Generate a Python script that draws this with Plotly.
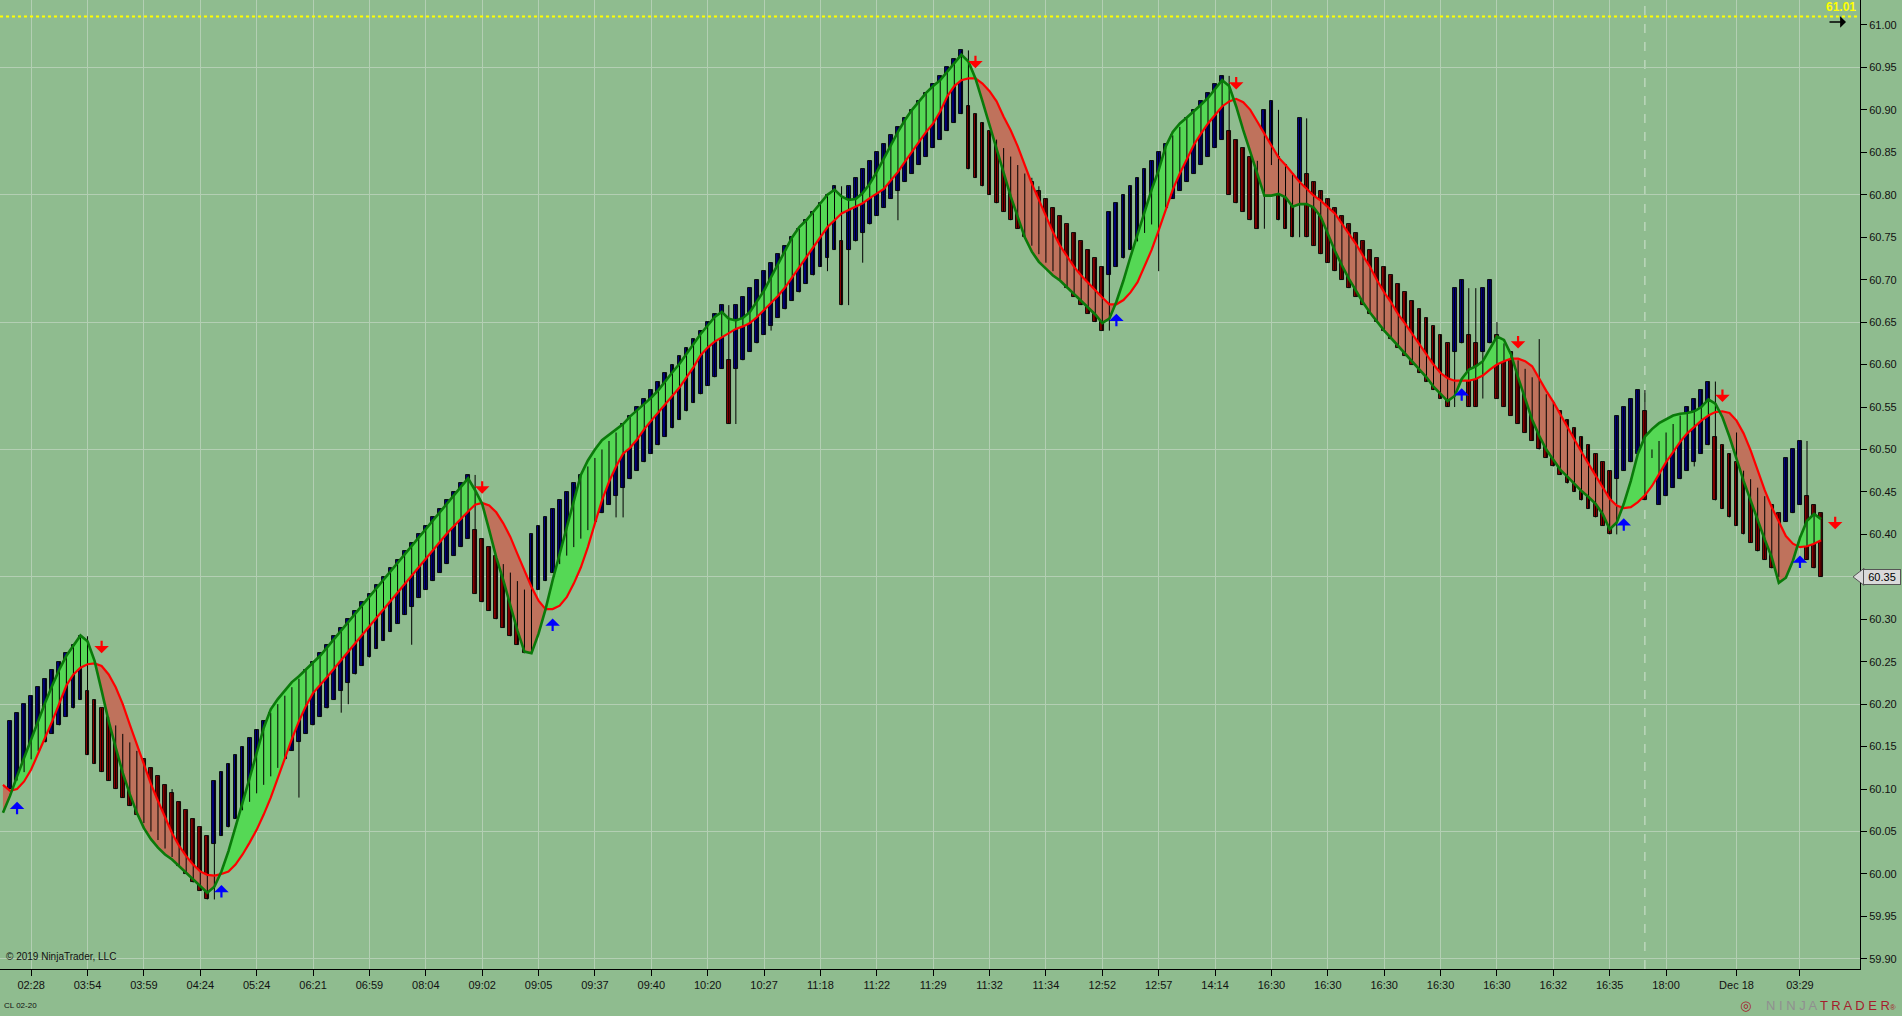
import plotly.graph_objects as go

# ---------------- data ----------------
bar_index = list(range(1, 259))

opens = [
    60.10, 60.11, 60.12, 60.135, 60.145, 60.155, 60.165, 60.175, 60.185, 60.195,
    60.205, 60.215, 60.205, 60.195, 60.185, 60.175, 60.165, 60.155, 60.145, 60.135,
    60.125, 60.115, 60.105, 60.095, 60.085, 60.075, 60.065, 60.055, 60.045, 60.035,
    60.045, 60.055, 60.065, 60.075, 60.085, 60.095, 60.105, 60.115, 60.125, 60.135,
    60.145, 60.155, 60.165, 60.175, 60.185, 60.195, 60.205, 60.215, 60.225, 60.235,
    60.245, 60.255, 60.265, 60.275, 60.285, 60.295, 60.305, 60.315, 60.325, 60.335,
    60.345, 60.355, 60.365, 60.375, 60.385, 60.395, 60.405, 60.395, 60.385, 60.375,
    60.365, 60.355, 60.345, 60.335, 60.325, 60.335, 60.345, 60.355, 60.365, 60.375,
    60.385, 60.395, 60.405, 60.415, 60.425, 60.435, 60.445, 60.455, 60.465, 60.475,
    60.485, 60.495, 60.505, 60.515, 60.525, 60.535, 60.545, 60.555, 60.565, 60.575,
    60.585, 60.595, 60.605, 60.595, 60.605, 60.615, 60.625, 60.635, 60.645, 60.655,
    60.665, 60.675, 60.685, 60.695, 60.705, 60.715, 60.725, 60.735, 60.745, 60.735,
    60.745, 60.755, 60.765, 60.775, 60.785, 60.795, 60.805, 60.815, 60.825, 60.835,
    60.845, 60.855, 60.865, 60.875, 60.885, 60.895, 60.905, 60.895, 60.885, 60.875,
    60.865, 60.855, 60.845, 60.835, 60.825, 60.815, 60.805, 60.795, 60.785, 60.775,
    60.765, 60.755, 60.745, 60.735, 60.725, 60.715, 60.705, 60.715, 60.725, 60.735,
    60.745, 60.755, 60.765, 60.775, 60.785, 60.795, 60.805, 60.815, 60.825, 60.835,
    60.845, 60.855, 60.865, 60.875, 60.865, 60.855, 60.845, 60.835, 60.825, 60.835,
    60.845, 60.835, 60.825, 60.815, 60.825, 60.815, 60.805, 60.795, 60.785, 60.775,
    60.765, 60.755, 60.745, 60.735, 60.725, 60.715, 60.705, 60.695, 60.685, 60.675,
    60.665, 60.655, 60.645, 60.635, 60.625, 60.615, 60.625, 60.635, 60.625, 60.615,
    60.625, 60.635, 60.625, 60.615, 60.605, 60.595, 60.585, 60.575, 60.565, 60.555,
    60.545, 60.535, 60.525, 60.515, 60.505, 60.495, 60.485, 60.475, 60.465, 60.475,
    60.485, 60.495, 60.545, 60.49, 60.435, 60.445, 60.455, 60.465, 60.475, 60.485,
    60.495, 60.505, 60.515, 60.505, 60.495, 60.485, 60.475, 60.465, 60.455, 60.445,
    60.435, 60.425, 60.415, 60.425, 60.435, 60.445, 60.435, 60.425,
]

closes = [
    60.18, 60.19, 60.20, 60.21, 60.22, 60.23, 60.24, 60.25, 60.26, 60.27,
    60.28, 60.14, 60.13, 60.12, 60.11, 60.10, 60.09, 60.08, 60.07, 60.06,
    60.05, 60.04, 60.03, 60.02, 60.01, 60.00, 59.99, 59.98, 59.97, 60.11,
    60.12, 60.13, 60.14, 60.15, 60.16, 60.17, 60.18, 60.19, 60.20, 60.21,
    60.22, 60.23, 60.24, 60.25, 60.26, 60.27, 60.28, 60.29, 60.30, 60.31,
    60.32, 60.33, 60.34, 60.35, 60.36, 60.37, 60.38, 60.39, 60.40, 60.41,
    60.42, 60.43, 60.44, 60.45, 60.46, 60.47, 60.33, 60.32, 60.31, 60.30,
    60.29, 60.28, 60.27, 60.26, 60.40, 60.41, 60.42, 60.43, 60.44, 60.45,
    60.46, 60.47, 60.48, 60.49, 60.50, 60.51, 60.52, 60.53, 60.54, 60.55,
    60.56, 60.57, 60.58, 60.59, 60.60, 60.61, 60.62, 60.63, 60.64, 60.65,
    60.66, 60.67, 60.53, 60.67, 60.68, 60.69, 60.70, 60.71, 60.72, 60.73,
    60.74, 60.75, 60.76, 60.77, 60.78, 60.79, 60.80, 60.81, 60.67, 60.81,
    60.82, 60.83, 60.84, 60.85, 60.86, 60.87, 60.88, 60.89, 60.90, 60.91,
    60.92, 60.93, 60.94, 60.95, 60.96, 60.97, 60.83, 60.82, 60.81, 60.80,
    60.79, 60.78, 60.77, 60.76, 60.75, 60.74, 60.73, 60.72, 60.71, 60.70,
    60.69, 60.68, 60.67, 60.66, 60.65, 60.64, 60.78, 60.79, 60.80, 60.81,
    60.82, 60.83, 60.84, 60.85, 60.86, 60.87, 60.88, 60.89, 60.90, 60.91,
    60.92, 60.93, 60.94, 60.80, 60.79, 60.78, 60.77, 60.76, 60.90, 60.91,
    60.77, 60.76, 60.75, 60.89, 60.75, 60.74, 60.73, 60.72, 60.71, 60.70,
    60.69, 60.68, 60.67, 60.66, 60.65, 60.64, 60.63, 60.62, 60.61, 60.60,
    60.59, 60.58, 60.57, 60.56, 60.55, 60.69, 60.70, 60.55, 60.55, 60.69,
    60.70, 60.56, 60.55, 60.54, 60.53, 60.52, 60.51, 60.50, 60.49, 60.48,
    60.47, 60.46, 60.45, 60.44, 60.43, 60.42, 60.41, 60.40, 60.54, 60.55,
    60.56, 60.57, 60.44, 60.50, 60.51, 60.52, 60.53, 60.54, 60.55, 60.56,
    60.57, 60.58, 60.44, 60.43, 60.42, 60.41, 60.40, 60.39, 60.38, 60.37,
    60.36, 60.35, 60.49, 60.50, 60.51, 60.37, 60.36, 60.35,
]

highs = [
    60.18, 60.19, 60.20, 60.21, 60.22, 60.23, 60.24, 60.25, 60.26, 60.27,
    60.28, 60.28, 60.205, 60.195, 60.185, 60.175, 60.165, 60.155, 60.145, 60.135,
    60.125, 60.115, 60.105, 60.10, 60.085, 60.075, 60.065, 60.055, 60.045, 60.11,
    60.12, 60.13, 60.14, 60.15, 60.16, 60.17, 60.18, 60.19, 60.20, 60.21,
    60.22, 60.23, 60.24, 60.25, 60.26, 60.27, 60.28, 60.29, 60.30, 60.31,
    60.32, 60.33, 60.34, 60.35, 60.36, 60.37, 60.38, 60.39, 60.40, 60.41,
    60.42, 60.43, 60.44, 60.45, 60.46, 60.47, 60.47, 60.395, 60.385, 60.375,
    60.365, 60.355, 60.345, 60.335, 60.40, 60.41, 60.42, 60.43, 60.44, 60.45,
    60.46, 60.47, 60.48, 60.49, 60.50, 60.51, 60.52, 60.53, 60.54, 60.55,
    60.56, 60.57, 60.58, 60.59, 60.60, 60.61, 60.62, 60.63, 60.64, 60.65,
    60.66, 60.67, 60.67, 60.67, 60.68, 60.69, 60.70, 60.71, 60.72, 60.73,
    60.74, 60.75, 60.76, 60.77, 60.78, 60.79, 60.80, 60.81, 60.81, 60.81,
    60.82, 60.83, 60.84, 60.85, 60.86, 60.87, 60.88, 60.89, 60.90, 60.91,
    60.92, 60.93, 60.94, 60.95, 60.96, 60.97, 60.97, 60.895, 60.885, 60.875,
    60.865, 60.855, 60.845, 60.835, 60.825, 60.82, 60.81, 60.795, 60.785, 60.775,
    60.765, 60.755, 60.745, 60.735, 60.725, 60.715, 60.78, 60.79, 60.80, 60.81,
    60.82, 60.83, 60.84, 60.85, 60.86, 60.87, 60.88, 60.89, 60.90, 60.91,
    60.92, 60.93, 60.94, 60.94, 60.865, 60.855, 60.845, 60.84, 60.90, 60.91,
    60.90, 60.835, 60.825, 60.89, 60.89, 60.815, 60.805, 60.795, 60.785, 60.775,
    60.765, 60.755, 60.745, 60.735, 60.725, 60.715, 60.705, 60.695, 60.685, 60.675,
    60.665, 60.655, 60.645, 60.635, 60.625, 60.69, 60.70, 60.69, 60.69, 60.69,
    60.70, 60.65, 60.625, 60.615, 60.605, 60.595, 60.585, 60.63, 60.565, 60.555,
    60.545, 60.535, 60.525, 60.515, 60.505, 60.495, 60.485, 60.475, 60.54, 60.55,
    60.56, 60.57, 60.57, 60.50, 60.51, 60.52, 60.53, 60.54, 60.55, 60.56,
    60.57, 60.58, 60.58, 60.505, 60.495, 60.52, 60.475, 60.465, 60.455, 60.445,
    60.435, 60.425, 60.49, 60.50, 60.51, 60.51, 60.435, 60.425,
]

lows = [
    60.10, 60.11, 60.12, 60.135, 60.145, 60.155, 60.165, 60.175, 60.185, 60.195,
    60.205, 60.14, 60.13, 60.12, 60.11, 60.10, 60.09, 60.08, 60.07, 60.06,
    60.05, 60.04, 60.03, 60.02, 60.01, 60.00, 59.99, 59.98, 59.97, 59.97,
    60.045, 60.055, 60.065, 60.075, 60.085, 60.095, 60.105, 60.115, 60.125, 60.135,
    60.145, 60.09, 60.165, 60.175, 60.185, 60.195, 60.205, 60.19, 60.20, 60.235,
    60.245, 60.255, 60.265, 60.275, 60.285, 60.295, 60.305, 60.27, 60.325, 60.335,
    60.345, 60.355, 60.365, 60.375, 60.385, 60.395, 60.33, 60.32, 60.31, 60.30,
    60.29, 60.28, 60.27, 60.26, 60.26, 60.335, 60.345, 60.355, 60.365, 60.375,
    60.385, 60.395, 60.405, 60.415, 60.425, 60.435, 60.42, 60.42, 60.465, 60.475,
    60.485, 60.495, 60.505, 60.515, 60.525, 60.535, 60.545, 60.555, 60.565, 60.575,
    60.585, 60.595, 60.53, 60.53, 60.605, 60.615, 60.625, 60.635, 60.64, 60.655,
    60.665, 60.675, 60.685, 60.695, 60.705, 60.715, 60.71, 60.735, 60.67, 60.67,
    60.745, 60.72, 60.765, 60.775, 60.785, 60.795, 60.77, 60.815, 60.825, 60.835,
    60.845, 60.855, 60.865, 60.875, 60.885, 60.895, 60.83, 60.82, 60.81, 60.80,
    60.79, 60.78, 60.77, 60.76, 60.75, 60.74, 60.73, 60.72, 60.71, 60.70,
    60.69, 60.68, 60.67, 60.66, 60.65, 60.64, 60.64, 60.715, 60.725, 60.735,
    60.745, 60.755, 60.765, 60.71, 60.785, 60.795, 60.805, 60.815, 60.825, 60.835,
    60.845, 60.855, 60.865, 60.80, 60.79, 60.78, 60.77, 60.76, 60.76, 60.835,
    60.77, 60.76, 60.75, 60.75, 60.75, 60.74, 60.73, 60.72, 60.71, 60.70,
    60.69, 60.68, 60.67, 60.66, 60.65, 60.64, 60.63, 60.62, 60.61, 60.60,
    60.59, 60.58, 60.57, 60.56, 60.55, 60.55, 60.625, 60.55, 60.55, 60.56,
    60.625, 60.56, 60.55, 60.54, 60.53, 60.52, 60.51, 60.50, 60.49, 60.48,
    60.47, 60.46, 60.45, 60.44, 60.43, 60.42, 60.41, 60.40, 60.40, 60.475,
    60.485, 60.495, 60.44, 60.49, 60.435, 60.445, 60.455, 60.465, 60.475, 60.48,
    60.495, 60.505, 60.44, 60.43, 60.42, 60.41, 60.40, 60.39, 60.38, 60.37,
    60.36, 60.35, 60.415, 60.425, 60.435, 60.37, 60.36, 60.35,
]

# indicator lines (index 0 = bar just left of the visible area)
line_index = list(range(0, 259))
fast_line = [
    60.072, 60.092, 60.115, 60.137, 60.159, 60.180, 60.202, 60.222, 60.241, 60.257,
    60.269, 60.281, 60.274, 60.251, 60.216, 60.180, 60.149, 60.119, 60.094, 60.072,
    60.054, 60.041, 60.031, 60.023, 60.017, 60.009, 60.001, 59.994, 59.986, 59.978,
    59.985, 60.003, 60.027, 60.054, 60.084, 60.113, 60.143, 60.172, 60.194, 60.206,
    60.216, 60.226, 60.233, 60.241, 60.249, 60.257, 60.267, 60.277, 60.286, 60.296,
    60.306, 60.316, 60.326, 60.336, 60.346, 60.356, 60.366, 60.376, 60.386, 60.396,
    60.406, 60.416, 60.426, 60.436, 60.446, 60.456, 60.466, 60.452, 60.436, 60.405,
    60.373, 60.346, 60.316, 60.287, 60.262, 60.260, 60.283, 60.312, 60.346, 60.377,
    60.409, 60.440, 60.470, 60.487, 60.500, 60.511, 60.517, 60.523, 60.530, 60.539,
    60.546, 60.554, 60.561, 60.570, 60.581, 60.591, 60.601, 60.613, 60.624, 60.636,
    60.646, 60.656, 60.662, 60.654, 60.652, 60.655, 60.662, 60.674, 60.687, 60.703,
    60.719, 60.735, 60.750, 60.762, 60.770, 60.780, 60.790, 60.800, 60.806, 60.798,
    60.794, 60.795, 60.802, 60.813, 60.827, 60.843, 60.859, 60.874, 60.888, 60.900,
    60.910, 60.920, 60.928, 60.935, 60.945, 60.955, 60.965, 60.957, 60.937, 60.910,
    60.882, 60.853, 60.825, 60.798, 60.774, 60.750, 60.733, 60.721, 60.713, 60.705,
    60.699, 60.691, 60.683, 60.676, 60.668, 60.659, 60.649, 60.654, 60.674, 60.699,
    60.727, 60.754, 60.780, 60.806, 60.829, 60.857, 60.874, 60.884, 60.891, 60.898,
    60.906, 60.914, 60.924, 60.935, 60.928, 60.904, 60.876, 60.850, 60.823, 60.799,
    60.799, 60.801, 60.797, 60.786, 60.789, 60.789, 60.785, 60.774, 60.754, 60.734,
    60.717, 60.701, 60.687, 60.673, 60.661, 60.650, 60.640, 60.631, 60.622, 60.613,
    60.604, 60.594, 60.585, 60.574, 60.565, 60.557, 60.563, 60.583, 60.594, 60.598,
    60.604, 60.618, 60.633, 60.629, 60.612, 60.585, 60.559, 60.535, 60.516, 60.500,
    60.488, 60.476, 60.468, 60.459, 60.451, 60.444, 60.436, 60.424, 60.406, 60.414,
    60.436, 60.463, 60.495, 60.515, 60.524, 60.531, 60.536, 60.540, 60.542, 60.543,
    60.545, 60.550, 60.559, 60.554, 60.538, 60.515, 60.489, 60.463, 60.440, 60.416,
    60.394, 60.373, 60.343, 60.349, 60.369, 60.396, 60.416, 60.424, 60.418,
]
slow_line = [
    60.105, 60.098, 60.100, 60.109, 60.123, 60.141, 60.161, 60.180, 60.202, 60.222,
    60.235, 60.243, 60.247, 60.248, 60.245, 60.235, 60.220, 60.200, 60.176, 60.153,
    60.129, 60.106, 60.086, 60.066, 60.048, 60.033, 60.021, 60.011, 60.003, 59.999,
    59.998, 60.000, 60.003, 60.011, 60.023, 60.037, 60.052, 60.070, 60.090, 60.113,
    60.137, 60.159, 60.180, 60.198, 60.213, 60.222, 60.232, 60.242, 60.252, 60.262,
    60.272, 60.282, 60.292, 60.302, 60.312, 60.322, 60.332, 60.342, 60.352, 60.362,
    60.372, 60.382, 60.392, 60.401, 60.410, 60.419, 60.427, 60.435, 60.437, 60.434,
    60.426, 60.413, 60.397, 60.377, 60.357, 60.338, 60.322, 60.312, 60.312, 60.316,
    60.326, 60.342, 60.361, 60.385, 60.413, 60.440, 60.462, 60.480, 60.495, 60.502,
    60.512, 60.524, 60.534, 60.544, 60.554, 60.563, 60.573, 60.585, 60.597, 60.611,
    60.620, 60.627, 60.632, 60.638, 60.642, 60.645, 60.649, 60.656, 60.664, 60.672,
    60.681, 60.691, 60.703, 60.715, 60.727, 60.739, 60.750, 60.762, 60.770, 60.778,
    60.782, 60.786, 60.790, 60.796, 60.802, 60.807, 60.817, 60.827, 60.839, 60.851,
    60.863, 60.874, 60.884, 60.898, 60.916, 60.928, 60.935, 60.937, 60.937, 60.931,
    60.922, 60.910, 60.892, 60.876, 60.857, 60.835, 60.813, 60.794, 60.774, 60.756,
    60.740, 60.727, 60.715, 60.705, 60.696, 60.688, 60.679, 60.671, 60.671, 60.676,
    60.685, 60.697, 60.715, 60.735, 60.758, 60.782, 60.806, 60.825, 60.843, 60.859,
    60.872, 60.884, 60.894, 60.904, 60.910, 60.913, 60.909, 60.900, 60.886, 60.872,
    60.858, 60.844, 60.835, 60.825, 60.815, 60.807, 60.799, 60.793, 60.786, 60.778,
    60.766, 60.754, 60.742, 60.728, 60.715, 60.699, 60.685, 60.673, 60.659, 60.648,
    60.636, 60.624, 60.612, 60.600, 60.590, 60.584, 60.581, 60.581, 60.581, 60.583,
    60.587, 60.594, 60.600, 60.604, 60.607, 60.607, 60.604, 60.598, 60.583, 60.569,
    60.556, 60.541, 60.526, 60.511, 60.497, 60.483, 60.469, 60.456, 60.442, 60.434,
    60.431, 60.432, 60.438, 60.446, 60.457, 60.471, 60.485, 60.497, 60.509, 60.519,
    60.527, 60.534, 60.540, 60.544, 60.545, 60.543, 60.534, 60.519, 60.499, 60.475,
    60.452, 60.432, 60.414, 60.398, 60.389, 60.385, 60.386, 60.389, 60.393,
]

tick_bars = [4, 12, 20, 28, 36, 44, 52, 60, 68, 76, 84, 92, 100, 108, 116, 124,
             132, 140, 148, 156, 164, 172, 180, 188, 196, 204, 212, 220, 228, 236,
             246, 255]
tick_labels = ["02:28", "03:54", "03:59", "04:24", "05:24", "06:21", "06:59", "08:04",
               "09:02", "09:05", "09:37", "09:40", "10:20", "10:27", "11:18", "11:22",
               "11:29", "11:32", "11:34", "12:52", "12:57", "14:14", "16:30", "16:30",
               "16:30", "16:30", "16:30", "16:32", "16:35", "18:00", "Dec 18", "03:29"]

up_arrow_bars = [2, 31, 78, 158, 207, 230, 255]
up_arrow_prices = [60.085, 59.987, 60.301, 60.660, 60.572, 60.419, 60.375]
down_arrow_bars = [14, 68, 138, 175, 215, 244, 260]
down_arrow_prices = [60.260, 60.448, 60.949, 60.924, 60.619, 60.556, 60.406]

session_break_bar = 233
alert_price = 61.01
instrument = "CL 02-20"

assert len(opens) == len(closes) == len(highs) == len(lows) == len(bar_index)
assert len(fast_line) == len(slow_line) == len(line_index)
assert len(tick_bars) == len(tick_labels)

# ---------------- styling ----------------
BG = "#8FBC8F"
GRID = "#B3CFB3"
UP_BODY = "#000080"
DN_BODY = "#8B0000"
FILL_UP = "#55D855"
FILL_DN = "#BF725C"
FAST_COLOR = "#0A7A0A"
SLOW_COLOR = "#FF0000"
FONT = "Arial, Liberation Sans, sans-serif"

W, H = 1902, 1016
M_L, M_R, M_T, M_B = 0, 42, 0, 47
PLOT_W = W - M_L - M_R
PLOT_H = H - M_T - M_B
X_RANGE = [-0.42, 263.52]
Y_RANGE = [59.8881, 61.0294]

fig = go.Figure()

# ---- fill between the two indicator lines ----
def fill_regions(xs, a, b):
    regs = []
    sgn = lambda v: 1 if v >= 0 else -1
    cx, ca, cb = [xs[0]], [a[0]], [b[0]]
    cs = sgn(a[0] - b[0])
    for i in range(1, len(xs)):
        d0 = a[i - 1] - b[i - 1]
        d1 = a[i] - b[i]
        if sgn(d1) != cs and d0 != d1:
            t = d0 / (d0 - d1)
            xc = xs[i - 1] + t * (xs[i] - xs[i - 1])
            yc = a[i - 1] + t * (a[i] - a[i - 1])
            cx.append(xc); ca.append(yc); cb.append(yc)
            regs.append((cs, cx, ca, cb))
            cx, ca, cb = [xc], [yc], [yc]
            cs = sgn(d1)
        cx.append(xs[i]); ca.append(a[i]); cb.append(b[i])
    regs.append((cs, cx, ca, cb))
    return regs

poly = {1: ([], []), -1: ([], [])}
for s, rx, ra, rb in fill_regions(line_index, fast_line, slow_line):
    px, py = poly[s]
    px.extend(rx + rx[::-1] + [None])
    py.extend(ra + rb[::-1] + [None])

for s, col in ((1, FILL_UP), (-1, FILL_DN)):
    fig.add_trace(go.Scatter(x=poly[s][0], y=poly[s][1], mode="lines",
                             fill="toself", fillcolor=col,
                             line=dict(width=0, color=col),
                             hoverinfo="skip", showlegend=False))

# ---- wicks ----
wx, wy = [], []
for n, hi, lo in zip(bar_index, highs, lows):
    wx += [n, n, None]
    wy += [lo, hi, None]
fig.add_trace(go.Scatter(x=wx, y=wy, mode="lines", line=dict(color="black", width=1),
                         hoverinfo="skip", showlegend=False))

# ---- bodies ----
for up, col in ((True, UP_BODY), (False, DN_BODY)):
    bx, bbase, bh = [], [], []
    for n, o, c in zip(bar_index, opens, closes):
        if (c > o) == up:
            bx.append(n)
            bbase.append(min(o, c))
            bh.append(abs(c - o))
    fig.add_trace(go.Bar(x=bx, y=bh, base=bbase, width=0.54,
                         marker=dict(color=col, line=dict(color="black", width=0.9)),
                         hoverinfo="skip", showlegend=False))

# ---- indicator lines ----
fig.add_trace(go.Scatter(x=line_index, y=slow_line, mode="lines",
                         line=dict(color=SLOW_COLOR, width=2.2),
                         hoverinfo="skip", showlegend=False))
fig.add_trace(go.Scatter(x=line_index, y=fast_line, mode="lines",
                         line=dict(color=FAST_COLOR, width=2.6),
                         hoverinfo="skip", showlegend=False))

# invisible trace on the grid axis so it is drawn
fig.add_trace(go.Scatter(x=[bar_index[0]], y=[closes[0]], yaxis="y2", mode="markers",
                         marker=dict(opacity=0), hoverinfo="skip", showlegend=False))

annotations = []
for n, p in zip(up_arrow_bars, up_arrow_prices):
    annotations.append(dict(x=n, y=p, xref="x", yref="y", text="", showarrow=True,
                            ax=0, ay=14, arrowcolor="#0000FF", arrowwidth=2.2,
                            arrowhead=1, arrowsize=1.1, standoff=0))
for n, p in zip(down_arrow_bars, down_arrow_prices):
    annotations.append(dict(x=n, y=p, xref="x", yref="y", text="", showarrow=True,
                            ax=0, ay=-14, arrowcolor="#FF0000", arrowwidth=2.2,
                            arrowhead=1, arrowsize=1.1, standoff=0))

def px_x(p):
    return (p - M_L) / PLOT_W

def px_y(p):
    return 1 - (p - M_T) / PLOT_H

annotations += [
    dict(x=px_x(1841), y=px_y(7), xref="paper", yref="paper", text="<b>61.01</b>",
         xanchor="center", yanchor="middle",
         showarrow=False, font=dict(family=FONT, size=12, color="#FFFF00")),
    # black right-pointing arrow below the alert label (drawn as an arrow, no text)
    dict(x=px_x(1846), y=px_y(22), xref="paper", yref="paper", text="",
         showarrow=True, ax=-18, ay=0, arrowcolor="black", arrowwidth=1.5,
         arrowhead=1, arrowsize=1.3, standoff=0),
    dict(x=px_x(4), y=px_y(956), xref="paper", yref="paper", xanchor="left",
         yanchor="middle", text="© 2019 NinjaTrader, LLC", showarrow=False,
         font=dict(family=FONT, size=10, color="#111111")),
    dict(x=px_x(2), y=px_y(1006), xref="paper", yref="paper", xanchor="left",
         yanchor="middle", text=instrument, showarrow=False,
         font=dict(family=FONT, size=8, color="#111111")),
    dict(x=px_x(1898), y=px_y(1006), xref="paper", yref="paper", xanchor="right",
         yanchor="middle",
         text="<span style='color:#8f8f8f'>N I N J A</span> <span style='color:#A51C2C'>T R A D E R</span><span style='color:#A51C2C;font-size:8px'>®</span>",
         showarrow=False, font=dict(family=FONT, size=13)),
    dict(x=px_x(1745), y=px_y(1006), xref="paper", yref="paper",
         xanchor="center", yanchor="middle",
         text="◎", showarrow=False, font=dict(family="DejaVu Sans", size=13, color="#A51C2C")),
    dict(x=px_x(1863), y=closes[-1], xref="paper", yref="y", xanchor="left",
         yanchor="middle",
         text="60.35", showarrow=False, bgcolor="#DADADA", bordercolor="#555555",
         borderwidth=1, borderpad=1, width=34,
         font=dict(family=FONT, size=11, color="black")),
]

half = 8.5 / PLOT_H * (Y_RANGE[1] - Y_RANGE[0])
shapes = [
    dict(type="line", xref="paper", yref="y", x0=0, x1=px_x(1857),
         y0=alert_price, y1=alert_price, line=dict(color="#FFFF00", width=2, dash="dot")),
    dict(type="line", xref="x", yref="paper", x0=session_break_bar, x1=session_break_bar,
         y0=0, y1=1, layer="below", line=dict(color="#D4E4D4", width=1, dash="dash")),
    dict(type="path", xref="paper", yref="y", layer="above",
         path=f"M {px_x(1853)},{closes[-1]} L {px_x(1864)},{closes[-1] + half} "
              f"L {px_x(1864)},{closes[-1] - half} Z",
         fillcolor="#DADADA", line=dict(color="#555555", width=1)),
]

fig.update_layout(
    width=W, height=H,
    margin=dict(l=M_L, r=M_R, t=M_T, b=M_B, pad=0),
    paper_bgcolor=BG, plot_bgcolor=BG,
    barmode="overlay", bargap=0,
    showlegend=False,
    font=dict(family=FONT, size=11, color="#111111"),
    xaxis=dict(range=X_RANGE, tickmode="array", tickvals=tick_bars, ticktext=tick_labels,
               showgrid=True, gridcolor=GRID, gridwidth=1, zeroline=False,
               showline=True, linecolor="black", linewidth=1,
               ticks="outside", ticklen=6, tickcolor="black",
               tickfont=dict(family=FONT, size=11, color="#111111")),
    yaxis=dict(range=Y_RANGE, side="right", tick0=59.90, dtick=0.05, tickformat=".2f",
               showgrid=False, zeroline=False,
               showline=True, linecolor="black", linewidth=1,
               ticks="outside", ticklen=6, tickcolor="black",
               tickfont=dict(family=FONT, size=11, color="#111111")),
    yaxis2=dict(range=Y_RANGE, overlaying="y", side="right", tick0=59.90, dtick=0.15,
                showgrid=True, gridcolor=GRID, gridwidth=1, zeroline=False,
                showline=False, showticklabels=False, ticks=""),
    annotations=annotations,
    shapes=shapes,
)

fig.write_html(
    "out.html",
    config={"displayModeBar": False},
    post_script="document.body.style.margin='0';document.body.style.padding='0';"
                "document.body.style.overflow='hidden';"
                "document.body.style.background='" + BG + "';",
)
